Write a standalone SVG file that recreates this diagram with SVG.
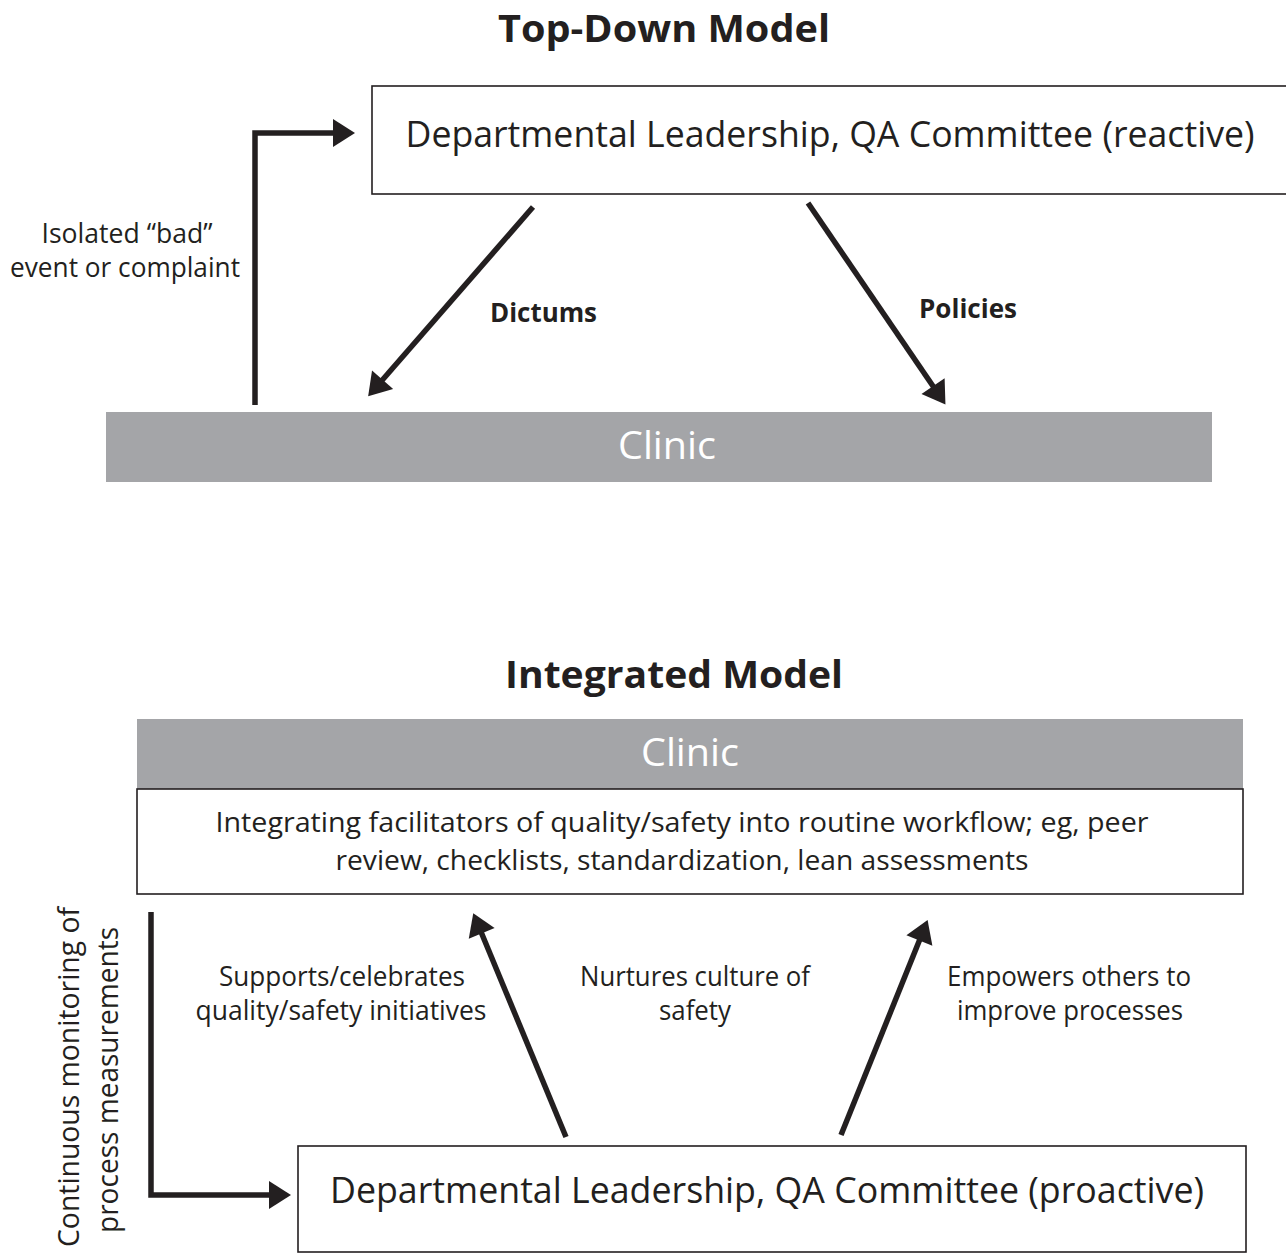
<svg xmlns="http://www.w3.org/2000/svg" width="1286" height="1253" viewBox="0 0 1286 1253">
  <style>
    text { font-family: "Open Sans", "Liberation Sans", sans-serif; fill: #231f20; }
    .title { font-size: 38px; font-weight: bold; text-anchor: middle; }
    .big { font-size: 37px; text-anchor: middle; }
    .bar { font-size: 38px; text-anchor: middle; fill: #ffffff; }
    .mid { font-size: 28px; text-anchor: middle; }
    .lbl { font-size: 27px; text-anchor: middle; }
    .side { font-size: 30px; text-anchor: middle; }
    .bold { font-size: 27px; font-weight: bold; }
    .box { fill: #ffffff; stroke: #231f20; stroke-width: 1.6; }
    .gray { fill: #a4a5a8; }
    .conn { fill: none; stroke: #231f20; stroke-width: 5.5; marker-end: url(#head); }
  </style>
  <defs>
    <marker id="head" markerUnits="userSpaceOnUse" markerWidth="30" markerHeight="30" viewBox="0 -15 22 30" refX="7" refY="0" orient="auto">
      <path d="M0,-14 L22,0 L0,14 z" fill="#231f20"/>
    </marker>
  </defs>

  <!-- Top-down model -->
  <text class="title" x="664" y="42" textLength="332" lengthAdjust="spacingAndGlyphs">Top-Down Model</text>

  <g id="leadership-reactive">
    <rect class="box" x="372" y="86" width="930" height="108"/>
    <text class="big" x="830" y="147" textLength="849" lengthAdjust="spacingAndGlyphs">Departmental Leadership, QA Committee (reactive)</text>
  </g>

  <g id="clinic-top">
    <rect class="gray" x="106" y="412" width="1106" height="70"/>
    <text class="bar" x="667" y="459" textLength="98" lengthAdjust="spacingAndGlyphs">Clinic</text>
  </g>

  <!-- Integrated model -->
  <text class="title" x="674" y="688" textLength="338" lengthAdjust="spacingAndGlyphs">Integrated Model</text>

  <g id="clinic-integrated">
    <rect class="gray" x="137" y="719" width="1106" height="70"/>
    <text class="bar" x="690" y="766" textLength="98" lengthAdjust="spacingAndGlyphs">Clinic</text>
    <rect class="box" x="137" y="789" width="1106" height="105"/>
    <text class="mid" x="682" y="832" textLength="933" lengthAdjust="spacingAndGlyphs">Integrating facilitators of quality/safety into routine workflow; eg, peer</text>
    <text class="mid" x="682" y="870" textLength="693" lengthAdjust="spacingAndGlyphs">review, checklists, standardization, lean assessments</text>
  </g>

  <g id="leadership-proactive">
    <rect class="box" x="298" y="1146" width="948" height="106"/>
    <text class="big" x="767" y="1203" textLength="874" lengthAdjust="spacingAndGlyphs">Departmental Leadership, QA Committee (proactive)</text>
  </g>

  <g id="connectors">
    <path class="conn" d="M255,405 V133 H340"/>
    <path class="conn" d="M533,207 L378,385"/>
    <path class="conn" d="M808,203 L937,392"/>
    <path class="conn" d="M151,912 V1195 H276"/>
    <path class="conn" d="M566,1137 L479,927"/>
    <path class="conn" d="M841,1135 L922,934"/>
  </g>

  <g id="labels">
    <text class="lbl" x="127" y="243" textLength="171" lengthAdjust="spacingAndGlyphs">Isolated “bad”</text>
    <text class="lbl" x="125" y="277" textLength="230" lengthAdjust="spacingAndGlyphs">event or complaint</text>
    <text class="bold" x="490" y="322" textLength="107" lengthAdjust="spacingAndGlyphs">Dictums</text>
    <text class="bold" x="919" y="318" textLength="98" lengthAdjust="spacingAndGlyphs">Policies</text>
    <text class="lbl" x="342" y="986" textLength="246" lengthAdjust="spacingAndGlyphs">Supports/celebrates</text>
    <text class="lbl" x="341" y="1020" textLength="291" lengthAdjust="spacingAndGlyphs">quality/safety initiatives</text>
    <text class="lbl" x="695" y="986" textLength="230" lengthAdjust="spacingAndGlyphs">Nurtures culture of</text>
    <text class="lbl" x="695" y="1020" textLength="72" lengthAdjust="spacingAndGlyphs">safety</text>
    <text class="lbl" x="1069" y="986" textLength="244" lengthAdjust="spacingAndGlyphs">Empowers others to</text>
    <text class="lbl" x="1070" y="1020" textLength="226" lengthAdjust="spacingAndGlyphs">improve processes</text>
    <text class="side" transform="translate(79,1077) rotate(-90)" textLength="340" lengthAdjust="spacingAndGlyphs">Continuous monitoring of</text>
    <text class="side" transform="translate(118,1080) rotate(-90)" textLength="306" lengthAdjust="spacingAndGlyphs">process measurements</text>
  </g>
</svg>
